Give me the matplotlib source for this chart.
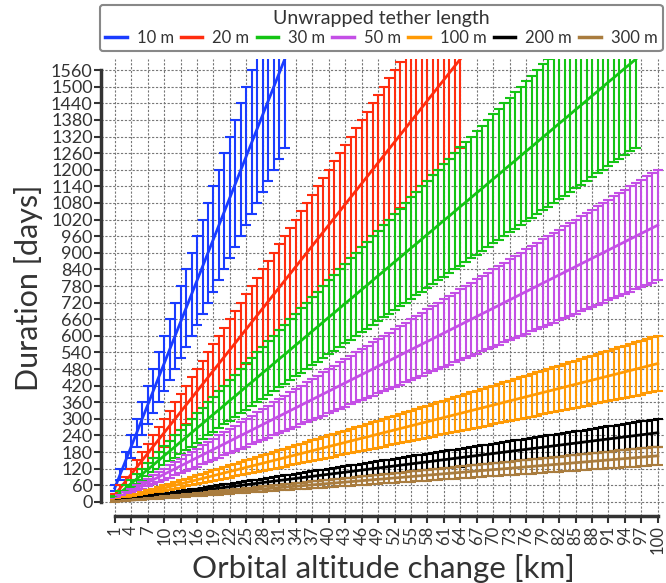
import numpy as np
import matplotlib
matplotlib.use("Agg")
import matplotlib.pyplot as plt

plt.rcParams['font.family'] = ['Lato', 'DejaVu Sans']
plt.rcParams['text.color'] = '#333333'
plt.rcParams['axes.labelcolor'] = '#333333'
plt.rcParams['xtick.color'] = '#333333'
plt.rcParams['ytick.color'] = '#333333'

#________________________ DATA ________________________#
# duration [days] per orbital altitude change (1 km steps)
d10 = [50, 100, 150, 200, 250, 300, 350, 400, 450, 500,
       550, 600, 650, 700, 750, 800, 850, 900, 950, 1000,
       1050, 1100, 1150, 1200, 1250, 1300, 1350, 1400, 1450, 1500,
       1550, 1600]
d20 = [25, 50, 75, 100, 125, 150, 175, 200, 225, 250,
       275, 300, 325, 350, 375, 400, 425, 450, 475, 500,
       525, 550, 575, 600, 625, 650, 675, 700, 725, 750,
       775, 800, 825, 850, 875, 900, 925, 950, 975, 1000,
       1025, 1050, 1075, 1100, 1125, 1150, 1175, 1200, 1225, 1250,
       1275, 1300, 1325, 1350, 1375, 1400, 1425, 1450, 1475, 1500,
       1525, 1550, 1575, 1600]
d30 = [17, 33, 50, 67, 83, 100, 117, 133, 150, 167,
       183, 200, 217, 233, 250, 267, 283, 300, 317, 333,
       350, 367, 383, 400, 417, 433, 450, 467, 483, 500,
       517, 533, 550, 567, 583, 600, 617, 633, 650, 667,
       683, 700, 717, 733, 750, 767, 783, 800, 817, 833,
       850, 867, 883, 900, 917, 933, 950, 967, 983, 1000,
       1017, 1033, 1050, 1067, 1083, 1100, 1117, 1133, 1150, 1167,
       1183, 1200, 1217, 1233, 1250, 1267, 1283, 1300, 1317, 1333,
       1350, 1367, 1383, 1400, 1417, 1433, 1450, 1467, 1483, 1500,
       1517, 1533, 1550, 1567, 1583, 1600]
d50 = [10, 20, 30, 40, 50, 60, 70, 80, 90, 100,
       110, 120, 130, 140, 150, 160, 170, 180, 190, 200,
       210, 220, 230, 240, 250, 260, 270, 280, 290, 300,
       310, 320, 330, 340, 350, 360, 370, 380, 390, 400,
       410, 420, 430, 440, 450, 460, 470, 480, 490, 500,
       510, 520, 530, 540, 550, 560, 570, 580, 590, 600,
       610, 620, 630, 640, 650, 660, 670, 680, 690, 700,
       710, 720, 730, 740, 750, 760, 770, 780, 790, 800,
       810, 820, 830, 840, 850, 860, 870, 880, 890, 900,
       910, 920, 930, 940, 950, 960, 970, 980, 990, 1000]
d100 = [5, 10, 15, 20, 25, 30, 35, 40, 45, 50,
        55, 60, 65, 70, 75, 80, 85, 90, 95, 100,
        105, 110, 115, 120, 125, 130, 135, 140, 145, 150,
        155, 160, 165, 170, 175, 180, 185, 190, 195, 200,
        205, 210, 215, 220, 225, 230, 235, 240, 245, 250,
        255, 260, 265, 270, 275, 280, 285, 290, 295, 300,
        305, 310, 315, 320, 325, 330, 335, 340, 345, 350,
        355, 360, 365, 370, 375, 380, 385, 390, 395, 400,
        405, 410, 415, 420, 425, 430, 435, 440, 445, 450,
        455, 460, 465, 470, 475, 480, 485, 490, 495, 500]
d200 = [2.5, 5, 7.5, 10, 12.5, 15, 17.5, 20, 22.5, 25,
        27.5, 30, 32.5, 35, 37.5, 40, 42.5, 45, 47.5, 50,
        52.5, 55, 57.5, 60, 62.5, 65, 67.5, 70, 72.5, 75,
        77.5, 80, 82.5, 85, 87.5, 90, 92.5, 95, 97.5, 100,
        102.5, 105, 107.5, 110, 112.5, 115, 117.5, 120, 122.5, 125,
        127.5, 130, 132.5, 135, 137.5, 140, 142.5, 145, 147.5, 150,
        152.5, 155, 157.5, 160, 162.5, 165, 167.5, 170, 172.5, 175,
        177.5, 180, 182.5, 185, 187.5, 190, 192.5, 195, 197.5, 200,
        202.5, 205, 207.5, 210, 212.5, 215, 217.5, 220, 222.5, 225,
        227.5, 230, 232.5, 235, 237.5, 240, 242.5, 245, 247.5, 250]
d300 = [1.7, 3.3, 5.0, 6.7, 8.3, 10.0, 11.7, 13.3, 15.0, 16.7,
        18.3, 20.0, 21.7, 23.3, 25.0, 26.7, 28.3, 30.0, 31.7, 33.3,
        35.0, 36.7, 38.3, 40.0, 41.7, 43.3, 45.0, 46.7, 48.3, 50.0,
        51.7, 53.3, 55.0, 56.7, 58.3, 60.0, 61.7, 63.3, 65.0, 66.7,
        68.3, 70.0, 71.7, 73.3, 75.0, 76.7, 78.3, 80.0, 81.7, 83.3,
        85.0, 86.7, 88.3, 90.0, 91.7, 93.3, 95.0, 96.7, 98.3, 100.0,
        101.7, 103.3, 105.0, 106.7, 108.3, 110.0, 111.7, 113.3, 115.0, 116.7,
        118.3, 120.0, 121.7, 123.3, 125.0, 126.7, 128.3, 130.0, 131.7, 133.3,
        135.0, 136.7, 138.3, 140.0, 141.7, 143.3, 145.0, 146.7, 148.3, 150.0,
        151.7, 153.3, 155.0, 156.7, 158.3, 160.0, 161.7, 163.3, 165.0, 166.7]

series = [d10, d20, d30, d50, d100, d200, d300]
labels = ['10 m', '20 m', '30 m', '50 m', '100 m', '200 m', '300 m']
colours = ['#1a3cff', '#ff2d0f', '#14c414', '#c44fe6', '#ff9a05', '#000000', '#a97c3e']
err_frac = 0.2   # relative uncertainty on duration

#________________________ PLOT ________________________#
fig = plt.figure(figsize=(6.66, 5.83), dpi=100)
ax = fig.add_axes([0.1517, 0.1153, 0.8468, 0.7835])

handles = []
for d, lab, c in zip(series, labels, colours):
    d = np.array(d, dtype=float)
    km = np.arange(1, len(d) + 1)
    ax.errorbar(km, d, yerr=err_frac * d, fmt='none', ecolor=c,
                elinewidth=1.5, capsize=3.8, capthick=1.5)
    h, = ax.plot(km, d, color=c, lw=2.0, label=lab)
    handles.append(h)

ax.set_xlim(-1.5, 101.3)
ax.set_ylim(-50, 1600)
ax.set_xticks(np.arange(1, 101, 3))
ax.set_yticks(np.arange(0, 1561, 60))
ax.tick_params(axis='x', labelrotation=90, labelsize=12, length=5, width=1.5, pad=2)
ax.tick_params(axis='y', labelsize=13, length=5, width=1.5, pad=1)
ax.grid(True, color='#777777', linestyle=(0, (2, 1.5)), linewidth=0.8)
ax.set_axisbelow(True)

for s in ['top', 'right']:
    ax.spines[s].set_visible(False)
ax.spines['left'].set_bounds(0, 1560)
ax.spines['bottom'].set_bounds(1, 100)
for s in ['left', 'bottom']:
    ax.spines[s].set_linewidth(2.5)
    ax.spines[s].set_color('#333333')

ax.set_xlabel('Orbital altitude change [km]', fontsize=22.5, labelpad=0)
ax.set_ylabel('Duration [days]', fontsize=22, labelpad=6)

leg = fig.legend(handles=handles, loc='upper left', mode='expand',
                 bbox_to_anchor=(0.150, 0.5, 0.845, 0.492), borderaxespad=0,
                 ncol=7, title='Unwrapped tether length', fontsize=12,
                 title_fontsize=14, handlelength=1.3, handletextpad=0.6,
                 columnspacing=0.5, borderpad=0.3, labelspacing=0.2,
                 fancybox=True, framealpha=1, edgecolor='#888888')
leg.get_frame().set_linewidth(1.5)
for lh in leg.legend_handles:
    lh.set_linewidth(2.5)

fig.savefig('out.png', dpi=100)
